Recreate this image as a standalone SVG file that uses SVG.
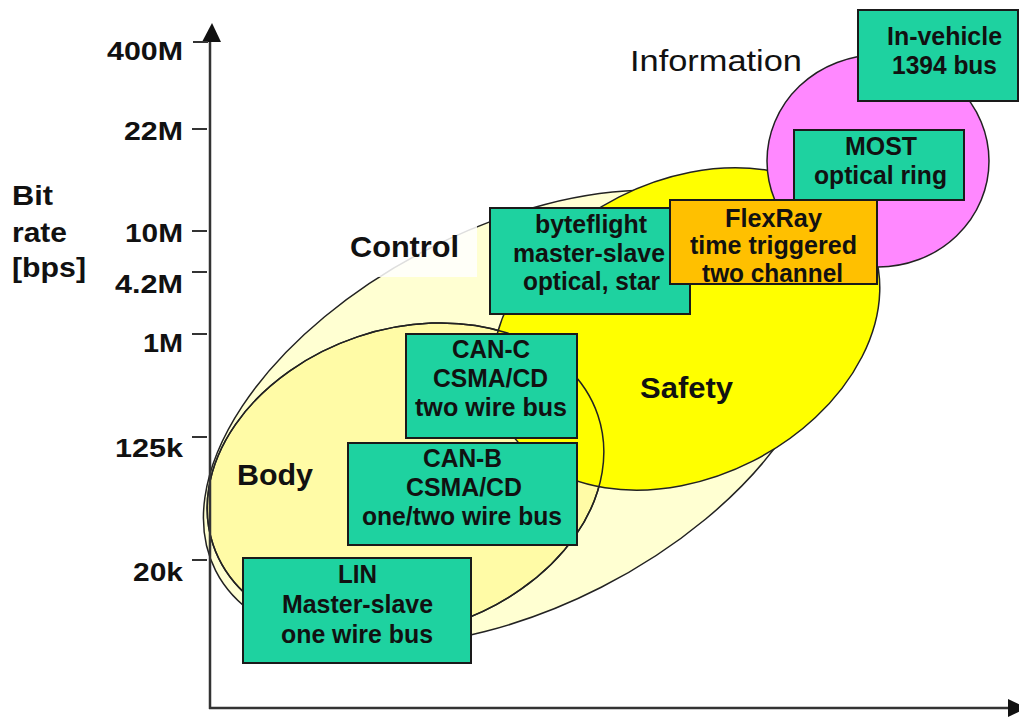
<svg xmlns="http://www.w3.org/2000/svg" width="1019" height="717" viewBox="0 0 1019 717">
  <style>
    .region { stroke: #222; stroke-width: 1.5; }
    .outline { fill: none; stroke: #222; stroke-width: 1.5; }
    .box { stroke: #1a1a1a; stroke-width: 2; }
    .green { fill: #1ED2A0; }
    .orange { fill: #FFC000; }
    .bt { font-family: "Liberation Sans", Arial, sans-serif; font-weight: bold; font-size: 25px; fill: #111; text-anchor: middle; }
    .tick-label { font-family: "Liberation Sans", Arial, sans-serif; font-weight: bold; font-size: 25px; fill: #111; text-anchor: end; }
    .axis-title { font-family: "Liberation Sans", Arial, sans-serif; font-weight: bold; font-size: 28px; fill: #111; }
    .area-label { font-family: "Liberation Sans", Arial, sans-serif; font-weight: bold; font-size: 30px; fill: #111; }
    .tick { stroke: #333; stroke-width: 2; }
    .axis { stroke: #333; stroke-width: 2.5; }
  </style>

  <!-- application domains -->
  <g id="region-control">
    <ellipse class="region" cx="515" cy="418" rx="336" ry="190" transform="rotate(-27 515 418)" fill="#FFFFD2"/>
    <rect x="340" y="225" width="137" height="52" fill="#fff" opacity="0.85"/>
  </g>
  <g id="region-body">
    <ellipse class="region" cx="405.5" cy="480" rx="203" ry="151" transform="rotate(-18.6 405.5 480)" fill="#FFFBA6"/>
  </g>
  <g id="region-safety">
    <ellipse class="region" cx="686" cy="329" rx="204" ry="148" transform="rotate(-27 686 329)" fill="#FFFF00"/>
  </g>
  <!-- body boundary stays visible across the safety area -->
  <ellipse class="outline" cx="405.5" cy="480" rx="203" ry="151" transform="rotate(-18.6 405.5 480)"/>
  <g id="region-information">
    <ellipse class="region" cx="878" cy="161" rx="111" ry="106" fill="#FF88FF"/>
  </g>

  <!-- axes -->
  <g id="axes">
    <line class="axis" x1="210" y1="40" x2="210" y2="709"/>
    <line class="axis" x1="209" y1="708" x2="1010" y2="708"/>
    <polygon points="202,42 212,23 221,42" fill="#111"/>
    <polygon points="1008,699 1027,708 1008,717" fill="#111"/>
    <line class="tick" x1="193" y1="42" x2="208" y2="42"/>
    <line class="tick" x1="192" y1="129" x2="207" y2="129"/>
    <line class="tick" x1="192" y1="231" x2="207" y2="231"/>
    <line class="tick" x1="192" y1="272" x2="207" y2="272"/>
    <line class="tick" x1="192" y1="334" x2="207" y2="334"/>
    <line class="tick" x1="192" y1="437" x2="207" y2="437"/>
    <line class="tick" x1="192" y1="560" x2="207" y2="560"/>
    <text class="tick-label" x="183" y="60" textLength="76" lengthAdjust="spacingAndGlyphs">400M</text>
    <text class="tick-label" x="183" y="140" textLength="59" lengthAdjust="spacingAndGlyphs">22M</text>
    <text class="tick-label" x="183" y="242" textLength="58" lengthAdjust="spacingAndGlyphs">10M</text>
    <text class="tick-label" x="183" y="293" textLength="68" lengthAdjust="spacingAndGlyphs">4.2M</text>
    <text class="tick-label" x="183" y="352" textLength="40" lengthAdjust="spacingAndGlyphs">1M</text>
    <text class="tick-label" x="183" y="457" textLength="68" lengthAdjust="spacingAndGlyphs">125k</text>
    <text class="tick-label" x="183" y="581" textLength="50" lengthAdjust="spacingAndGlyphs">20k</text>
    <text class="axis-title" x="12" y="205" textLength="41" lengthAdjust="spacingAndGlyphs">Bit</text>
    <text class="axis-title" x="12" y="242" textLength="55" lengthAdjust="spacingAndGlyphs">rate</text>
    <text class="axis-title" x="12" y="277" textLength="74" lengthAdjust="spacingAndGlyphs">[bps]</text>
  </g>

  <!-- bus technologies -->
  <g id="node-lin">
    <rect class="box green" x="243" y="558" width="228" height="105"/>
    <text class="bt" x="357.5" y="583" textLength="39" lengthAdjust="spacingAndGlyphs">LIN</text>
    <text class="bt" x="357.5" y="613" textLength="151" lengthAdjust="spacingAndGlyphs">Master-slave</text>
    <text class="bt" x="357" y="643" textLength="152" lengthAdjust="spacingAndGlyphs">one wire bus</text>
  </g>
  <g id="node-can-b">
    <rect class="box green" x="348" y="443" width="229" height="102"/>
    <text class="bt" x="462.5" y="467" textLength="79" lengthAdjust="spacingAndGlyphs">CAN-B</text>
    <text class="bt" x="464" y="496" textLength="116" lengthAdjust="spacingAndGlyphs">CSMA/CD</text>
    <text class="bt" x="462" y="525" textLength="200" lengthAdjust="spacingAndGlyphs">one/two wire bus</text>
  </g>
  <g id="node-can-c">
    <rect class="box green" x="406" y="334" width="171" height="104"/>
    <text class="bt" x="491" y="358" textLength="78" lengthAdjust="spacingAndGlyphs">CAN-C</text>
    <text class="bt" x="490.5" y="387" textLength="115" lengthAdjust="spacingAndGlyphs">CSMA/CD</text>
    <text class="bt" x="491" y="416" textLength="152" lengthAdjust="spacingAndGlyphs">two wire bus</text>
  </g>
  <g id="node-byteflight">
    <rect class="box green" x="490" y="208" width="200" height="106"/>
    <text class="bt" x="591" y="233" textLength="112" lengthAdjust="spacingAndGlyphs">byteflight</text>
    <text class="bt" x="589" y="262" textLength="152" lengthAdjust="spacingAndGlyphs">master-slave</text>
    <text class="bt" x="591.5" y="290" textLength="137" lengthAdjust="spacingAndGlyphs">optical, star</text>
  </g>
  <g id="node-flexray">
    <rect class="box orange" x="670" y="200" width="207" height="84"/>
    <text class="bt" x="773.5" y="227" textLength="97" lengthAdjust="spacingAndGlyphs">FlexRay</text>
    <text class="bt" x="773.5" y="254" textLength="167" lengthAdjust="spacingAndGlyphs">time triggered</text>
    <text class="bt" x="772.5" y="282" textLength="141" lengthAdjust="spacingAndGlyphs">two channel</text>
  </g>
  <g id="node-most">
    <rect class="box green" x="794" y="130" width="170" height="70"/>
    <text class="bt" x="881" y="155" textLength="72" lengthAdjust="spacingAndGlyphs">MOST</text>
    <text class="bt" x="880.5" y="184" textLength="133" lengthAdjust="spacingAndGlyphs">optical ring</text>
  </g>
  <g id="node-1394">
    <rect class="box green" x="858" y="10" width="160" height="91"/>
    <text class="bt" x="944.5" y="45" textLength="115" lengthAdjust="spacingAndGlyphs">In-vehicle</text>
    <text class="bt" x="944.5" y="74" textLength="105" lengthAdjust="spacingAndGlyphs">1394 bus</text>
  </g>

  <!-- domain names -->
  <g id="labels">
    <text class="area-label" x="350" y="257" textLength="109" lengthAdjust="spacingAndGlyphs">Control</text>
    <text class="area-label" x="237" y="485" textLength="76" lengthAdjust="spacingAndGlyphs">Body</text>
    <text class="area-label" x="640" y="398" textLength="93" lengthAdjust="spacingAndGlyphs">Safety</text>
    <text class="area-label" x="630" y="71" textLength="172" lengthAdjust="spacingAndGlyphs" style="font-weight:normal">Information</text>
  </g>
</svg>
